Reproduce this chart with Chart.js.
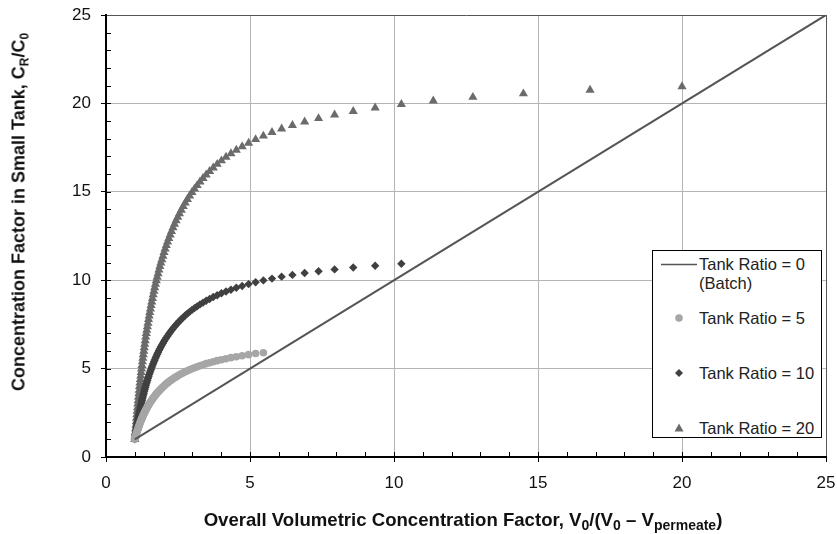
<!DOCTYPE html>
<html>
<head>
<meta charset="utf-8">
<script src="https://cdn.jsdelivr.net/npm/chart.js@4"></script>
<style>
  body { margin: 0; background: #fff; font-family: "Liberation Sans", Arial, sans-serif; }
  #wrap { position: relative; width: 837px; height: 534px; }
  .ttl { position: absolute; font-weight: bold; font-size: 18px; color: #111; white-space: nowrap; }
  .ttl sub { font-size: 12px; vertical-align: -4px; line-height: 0; }
  #ytitle { left: 19px; top: 212px; transform: translate(-50%, -50%) rotate(-90deg); }
  #xtitle { left: 463px; top: 520px; transform: translate(-50%, -50%); font-size: 18.6px; }
  #xtitle sub { font-size: 14px; }
  #legend { position: absolute; left: 652px; top: 250px; width: 168px; height: 186px;
            border: 1px solid #000; background: #fff; font-size: 16.5px; color: #222; }
  #legend .t { position: absolute; left: 46px; transform: translateY(-50%); white-space: nowrap; }
  #legend svg { position: absolute; }
</style>
</head>
<body>
<div id="wrap">
  <canvas id="myChart" width="837" height="534"></canvas>
  <div class="ttl" id="ytitle">Concentration Factor in Small Tank, C<sub>R</sub>/C<sub>0</sub></div>
  <div class="ttl" id="xtitle">Overall Volumetric Concentration Factor, V<sub>0</sub>/(V<sub>0</sub> &#8211; V<sub>permeate</sub>)</div>
  <div id="legend">
    <svg style="left:8px;top:12px" width="36" height="3"><line x1="0" y1="1.5" x2="36" y2="1.5" stroke="#555" stroke-width="1.5"/></svg>
    <div class="t" style="top:13px">Tank Ratio = 0</div>
    <div class="t" style="top:32px">(Batch)</div>
    <svg style="left:20px;top:61px" width="12" height="12"><circle cx="6" cy="6" r="3.8" fill="#a6a6a6"/></svg>
    <div class="t" style="top:67px">Tank Ratio = 5</div>
    <svg style="left:20px;top:116px" width="12" height="12"><polygon points="6,2 10,6 6,10 2,6" fill="#404040"/></svg>
    <div class="t" style="top:122px">Tank Ratio = 10</div>
    <svg style="left:20px;top:171px" width="12" height="12"><polygon points="6,1.5 10.5,9.5 1.5,9.5" fill="#6b6b6b"/></svg>
    <div class="t" style="top:177px">Tank Ratio = 20</div>
  </div>
</div>
<script>
console.log("tank ratio chart");

// overall volumetric concentration factor (shared x positions of the markers)
let vcfX = [
  1.000, 1.010, 1.019, 1.029, 1.040, 1.050, 1.060, 1.071, 1.082, 1.094,
  1.105, 1.117, 1.129, 1.141, 1.153, 1.166, 1.179, 1.193, 1.206, 1.220,
  1.235, 1.249, 1.264, 1.280, 1.295, 1.312, 1.328, 1.345, 1.362, 1.380,
  1.399, 1.417, 1.437, 1.457, 1.477, 1.498, 1.520, 1.542, 1.565, 1.589,
  1.613, 1.638, 1.664, 1.691, 1.718, 1.747, 1.776, 1.807, 1.838, 1.871,
  1.905, 1.940, 1.976, 2.014, 2.053, 2.094, 2.137, 2.181, 2.227, 2.275,
  2.326, 2.378, 2.433, 2.491, 2.551, 2.614, 2.681, 2.751, 2.825, 2.903,
  2.985, 3.072, 3.165, 3.263, 3.367, 3.478, 3.597, 3.724, 3.861, 4.008,
  4.167, 4.338, 4.525, 4.728, 4.951, 5.195, 5.465, 5.764, 6.098, 6.473,
  6.897, 7.380, 7.937, 8.584, 9.346, 10.256, 11.364, 12.739, 14.493, 16.807,
  20.000
];

let ratio5Y = [
  1.00, 1.06, 1.11, 1.17, 1.23, 1.29, 1.34, 1.40, 1.46, 1.51,
  1.57, 1.63, 1.68, 1.74, 1.80, 1.86, 1.91, 1.97, 2.03, 2.08,
  2.14, 2.20, 2.25, 2.31, 2.37, 2.43, 2.48, 2.54, 2.60, 2.65,
  2.71, 2.77, 2.82, 2.88, 2.94, 3.00, 3.05, 3.11, 3.17, 3.22,
  3.28, 3.34, 3.39, 3.45, 3.51, 3.57, 3.62, 3.68, 3.74, 3.79,
  3.85, 3.91, 3.96, 4.02, 4.08, 4.14, 4.19, 4.25, 4.31, 4.36,
  4.42, 4.48, 4.53, 4.59, 4.65, 4.71, 4.76, 4.82, 4.88, 4.93,
  4.99, 5.05, 5.10, 5.16, 5.22, 5.28, 5.33, 5.39, 5.45, 5.50,
  5.56, 5.62, 5.67, 5.73, 5.79, 5.85, 5.90
];

let ratio10Y = [
  1.00, 1.10, 1.21, 1.31, 1.42, 1.52, 1.63, 1.73, 1.84, 1.94,
  2.05, 2.15, 2.25, 2.36, 2.46, 2.57, 2.67, 2.78, 2.88, 2.99,
  3.09, 3.19, 3.30, 3.40, 3.51, 3.61, 3.72, 3.82, 3.93, 4.03,
  4.14, 4.24, 4.34, 4.45, 4.55, 4.66, 4.76, 4.87, 4.97, 5.08,
  5.18, 5.28, 5.39, 5.49, 5.60, 5.70, 5.81, 5.91, 6.02, 6.12,
  6.23, 6.33, 6.43, 6.54, 6.64, 6.75, 6.85, 6.96, 7.06, 7.17,
  7.27, 7.37, 7.48, 7.58, 7.69, 7.79, 7.90, 8.00, 8.11, 8.21,
  8.32, 8.42, 8.52, 8.63, 8.73, 8.84, 8.94, 9.05, 9.15, 9.26,
  9.36, 9.46, 9.57, 9.67, 9.78, 9.88, 9.99, 10.09, 10.20, 10.30,
  10.41, 10.51, 10.61, 10.72, 10.82, 10.93
];

let ratio20Y = [
  1.00, 1.20, 1.40, 1.60, 1.80, 2.00, 2.20, 2.40, 2.60, 2.80,
  3.00, 3.19, 3.39, 3.59, 3.79, 3.99, 4.19, 4.39, 4.59, 4.79,
  4.99, 5.19, 5.39, 5.59, 5.79, 5.99, 6.19, 6.39, 6.59, 6.79,
  6.99, 7.18, 7.38, 7.58, 7.78, 7.98, 8.18, 8.38, 8.58, 8.78,
  8.98, 9.18, 9.38, 9.58, 9.78, 9.98, 10.18, 10.38, 10.58, 10.78,
  10.98, 11.17, 11.37, 11.57, 11.77, 11.97, 12.17, 12.37, 12.57, 12.77,
  12.97, 13.17, 13.37, 13.57, 13.77, 13.97, 14.17, 14.37, 14.57, 14.77,
  14.97, 15.16, 15.36, 15.56, 15.76, 15.96, 16.16, 16.36, 16.56, 16.76,
  16.96, 17.16, 17.36, 17.56, 17.76, 17.96, 18.16, 18.36, 18.56, 18.76,
  18.96, 19.15, 19.35, 19.55, 19.75, 19.95, 20.15, 20.35, 20.55, 20.75,
  20.95
];

// batch line (tank ratio = 0)
let batchX = [1, 25];
let batchY = [1, 25];

let axisTicks = [0, 5, 10, 15, 20, 25];

function toPoints(xs, ys)
{
    return ys.map(function(y, i) { return { x: xs[i], y: y }; });
}

// small inward ticks on every unit, like the original axes
const innerTicks = {
    id: 'innerTicks',
    afterDraw(chart) {
        const ctx = chart.ctx;
        const xs = chart.scales.x;
        const ys = chart.scales.y;
        const area = chart.chartArea;
        ctx.save();
        ctx.strokeStyle = '#000';
        ctx.lineWidth = 1;
        ctx.beginPath();
        for (let i = 1; i < 25; i++) {
            let px = Math.round(xs.getPixelForValue(i)) + 0.5;
            ctx.moveTo(px, area.bottom);
            ctx.lineTo(px, area.bottom - 5);
            let py = Math.round(ys.getPixelForValue(i)) + 0.5;
            ctx.moveTo(area.left, py);
            ctx.lineTo(area.left + 5, py);
        }
        ctx.stroke();
        ctx.restore();
    }
};

function gridColor(c)
{
    if (c.tick.value === 0) return 'rgba(0,0,0,0)';
    if (c.tick.value === 25) return '#555';
    return '#b4b4b4';
}

let myChart1 = document.getElementById("myChart").getContext('2d');

let chart1 = new Chart(myChart1, {
    type: 'scatter',
    data: {
        datasets: [
            {
                label: 'Tank Ratio = 0 (Batch)',
                data: toPoints(batchX, batchY),
                showLine: true,
                borderColor: '#555',
                borderWidth: 2,
                pointRadius: 0
            },
            {
                label: 'Tank Ratio = 5',
                data: toPoints(vcfX, ratio5Y),
                pointStyle: 'circle',
                pointRadius: 3.8,
                backgroundColor: '#a6a6a6',
                borderColor: '#a6a6a6',
                borderWidth: 0
            },
            {
                label: 'Tank Ratio = 10',
                data: toPoints(vcfX, ratio10Y),
                pointStyle: 'rectRot',
                pointRadius: 4.2,
                backgroundColor: '#404040',
                borderColor: '#404040',
                borderWidth: 0
            },
            {
                label: 'Tank Ratio = 20',
                data: toPoints(vcfX, ratio20Y),
                pointStyle: 'triangle',
                pointRadius: 5.3,
                backgroundColor: '#6b6b6b',
                borderColor: '#6b6b6b',
                borderWidth: 0
            }
        ]
    },
    options: {
        responsive: false,
        animation: false,
        events: [],
        layout: {
            padding: { top: 15, right: 11, left: 0, bottom: 0 }
        },
        plugins: {
            legend: { display: false },
            tooltip: { enabled: false }
        },
        scales: {
            x: {
                type: 'linear',
                min: 0,
                max: 25,
                afterFit: function(scale) {
                    scale.height = 77;
                    scale.paddingLeft = 0;
                    scale.paddingRight = 0;
                },
                afterBuildTicks: function(scale) {
                    scale.ticks = axisTicks.map(function(v) { return { value: v }; });
                },
                ticks: {
                    padding: 11,
                    color: '#111',
                    font: { family: 'Liberation Sans', size: 17 }
                },
                grid: {
                    color: gridColor,
                    lineWidth: 1,
                    tickColor: '#000',
                    tickLength: 5
                },
                border: { color: '#000', width: 2 }
            },
            y: {
                type: 'linear',
                min: 0,
                max: 25,
                afterFit: function(scale) {
                    scale.width = 106;
                    scale.paddingTop = 0;
                    scale.paddingBottom = 0;
                },
                afterBuildTicks: function(scale) {
                    scale.ticks = axisTicks.map(function(v) { return { value: v }; });
                },
                ticks: {
                    padding: 10,
                    color: '#111',
                    font: { family: 'Liberation Sans', size: 17 }
                },
                grid: {
                    color: gridColor,
                    lineWidth: 1,
                    tickColor: '#000',
                    tickLength: 5
                },
                border: { color: '#000', width: 2 }
            }
        }
    },
    plugins: [innerTicks]
});
</script>
</body>
</html>
